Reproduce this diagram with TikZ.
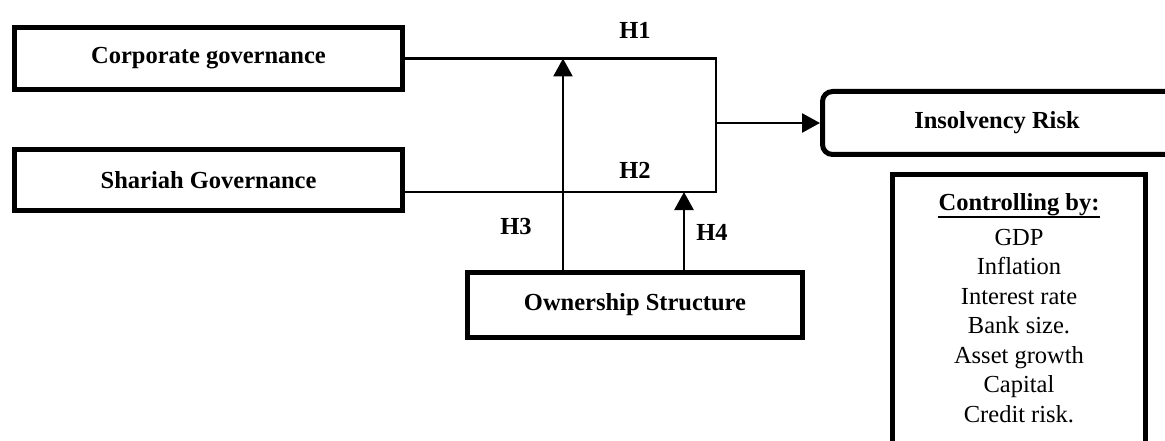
\documentclass[tikz,border=0pt]{standalone}
\usepackage{fontspec}
\setmainfont{Liberation Serif}
\usetikzlibrary{arrows.meta}
\begin{document}
\begin{tikzpicture}[x=1pt,y=-1pt,
  box/.style={draw, line width=5pt, inner sep=0pt, align=center,
    font=\fontsize{24.5}{29}\selectfont\bfseries},
  conn/.style={line width=2.7pt},
  arr/.style={conn, -{Triangle[width=19pt,length=18pt]}},
  hlab/.style={inner sep=0pt, font=\fontsize{24.5}{29}\selectfont\bfseries},
  uline/.style={line width=1.6pt},
  listtext/.style={inner sep=0pt, align=center, font=\fontsize{24.5}{29.5}\selectfont}]
\clip (0,0) rectangle (1165,441);
\useasboundingbox (0,0) rectangle (1165,441);
% boxes
\node[box, minimum width=388pt, minimum height=62pt] (cg) at (208.5,58.5) {Corporate governance};
\node[box, minimum width=388pt, minimum height=61pt] (sg) at (208.5,180) {Shariah Governance};
\node[box, minimum width=335pt, minimum height=65pt] (os) at (635,305) {Ownership Structure};
\node[box, rounded corners=10pt, minimum width=380pt, minimum height=63pt] (ir) at (1012.5,123) {Insolvency Risk\hspace*{31pt}};
\node[box, minimum width=253pt, minimum height=400pt, anchor=north] (ctl) at (1019,172.5) {};
% control text
\node[hlab, anchor=base] (ctlhead) at (1019,211) {Controlling by:};
\draw[uline] ([yshift=-6pt]ctlhead.base west) -- ([yshift=-6pt]ctlhead.base east);
\node[listtext, anchor=north] (ctllist) at (1019,228.6) {GDP\\Inflation\\Interest rate\\Bank size.\\Asset growth\\Capital\\Credit risk.};
% labels
\node[hlab] (h1) at (635,30) {H1};
\node[hlab] (h2) at (635,170) {H2};
\node[hlab] (h3) at (516,227) {H3};
\node[hlab] (h4) at (712,232) {H4};
% junctions
\coordinate (j1) at (716,58.5);
\coordinate (j2) at (716,192);
\coordinate (t3) at (563,58.5);
\coordinate (t4) at (684,192);
% connectors
\draw[conn] (cg.east) -- (j1) -- (j2) -- (sg.east |- j2);
\draw[arr] (j1 |- ir.west) -- (ir.west);
\draw[arr] (os.north -| t3) -- (t3);
\draw[arr] (os.north -| t4) -- (t4);
\end{tikzpicture}
\end{document}
